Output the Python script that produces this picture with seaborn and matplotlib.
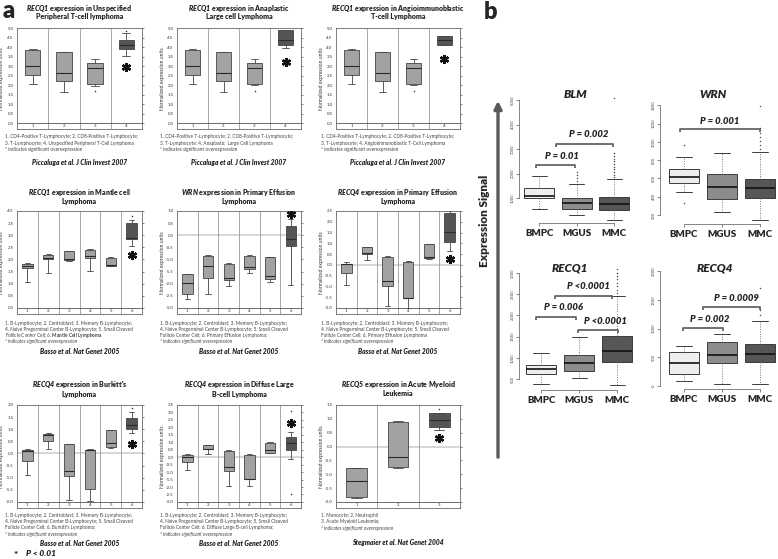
import numpy as np
import pandas as pd
import seaborn as sns
from matplotlib import pyplot as plt
from matplotlib.patches import FancyArrowPatch

W, H = 778, 559

# ---------------- panel a (Oncomine) : [low whisker, q1, median, q3, high whisker]
ptcl_boxes = [[2.07, 2.51, 3.00, 3.85, 3.90], [1.64, 2.23, 2.61, 3.74, 3.76],
              [1.95, 2.05, 2.88, 3.18, 3.39], [3.53, 3.92, 4.13, 4.36, 4.72]]
ptcl_outliers = [[], [], [1.68], [4.84]]

alcl_boxes = [[2.07, 2.51, 3.00, 3.85, 3.88], [1.64, 2.23, 2.61, 3.74, 3.76],
              [1.98, 2.07, 2.88, 3.18, 3.39], [3.96, 4.12, 4.36, 4.89, 4.90]]
alcl_outliers = [[], [], [1.68], []]

aitl_boxes = [[2.07, 2.51, 3.00, 3.85, 3.88], [1.64, 2.23, 2.61, 3.74, 3.76],
              [1.98, 2.07, 2.88, 3.18, 3.39], [4.10, 4.12, 4.38, 4.56, 4.60]]
aitl_outliers = [[], [], [1.68], []]

mcl_boxes = [[1.08, 1.66, 1.74, 1.82, 1.86], [1.45, 2.04, 2.08, 2.18, 2.22],
             [1.94, 1.99, 2.02, 2.34, 2.36], [1.54, 2.08, 2.14, 2.41, 2.43],
             [1.71, 1.73, 1.76, 2.08, 2.12], [2.57, 2.85, 2.88, 3.50, 3.62]]
mcl_outliers = [[], [], [], [], [], [3.79]]

wrn_pel_boxes = [[-2.62, -2.41, -1.97, -1.61, -1.58], [-2.44, -1.75, -1.27, -0.85, -0.83],
                 [-2.11, -1.83, -1.75, -1.19, -1.16], [-1.55, -1.41, -1.30, -0.85, -0.83],
                 [-1.94, -1.79, -1.69, -0.91, -0.89], [-2.04, -0.46, -0.14, 0.37, 0.69]]
wrn_pel_outliers = [[], [], [], [], [], []]

recq4_pel_boxes = [[-0.92, -0.37, 0.02, 0.06, 0.11], [0.22, 0.50, 0.53, 0.81, 0.83],
                   [-1.93, -0.99, -0.76, 0.37, 0.40], [-1.99, -1.54, -1.53, 0.14, 0.17],
                   [0.25, 0.34, 0.36, 0.96, 0.98], [0.62, 1.07, 1.51, 2.42, 2.50]]
recq4_pel_outliers = [[], [], [], [], [], []]

burkitt_boxes = [[-0.88, -0.33, 0.11, 0.15, 0.18], [0.19, 0.52, 0.77, 0.79, 0.84],
                 [-1.93, -0.95, -0.71, 0.38, 0.40], [-1.95, -1.47, 0.13, 0.15, 0.17],
                 [0.24, 0.27, 0.42, 0.95, 0.97], [0.86, 1.00, 1.18, 1.45, 1.70]]
burkitt_outliers = [[], [], [], [], [], [1.86]]

dlbcl_boxes = [[-0.84, -0.29, 0.00, 0.16, 0.20], [0.23, 0.54, 0.56, 0.83, 0.85],
               [-1.91, -0.95, -0.66, 0.43, 0.45], [-1.91, -1.47, -1.45, 0.16, 0.20],
               [0.27, 0.31, 0.49, 0.98, 1.00], [-0.13, 0.45, 0.98, 1.38, 1.72]]
dlbcl_outliers = [[], [], [], [], [], [3.12, -2.47]]

aml_boxes = [[-1.85, -1.82, -1.23, -0.78, -0.76], [-0.77, -0.75, -0.38, 0.90, 0.92],
             [0.60, 0.70, 0.96, 1.20, 1.22]]
aml_outliers = [[], [], [1.34]]

# ---------------- panel b (myeloma cohorts)
groups_b = ['BMPC', 'MGUS', 'MMC']
blm_boxes = [[551, 1000, 1082, 1408, 1898], [306, 539, 784, 1012, 1571], [102, 510, 755, 1029, 1776]]
blm_outliers = [[], [1680, 1800, 1950, 2070],
                [1850, 1950, 2060, 2170, 2280, 2390, 2500, 2610, 2720, 2840, 5080]]
wrn_boxes = [[448, 553, 619, 699, 830], [236, 375, 510, 645, 874], [145, 390, 492, 590, 885]]
wrn_outliers = [[965, 328], [], [920, 965, 1010, 1055, 1100, 1150, 1390]]
recq1_boxes = [[388, 624, 734, 835, 1111], [522, 701, 889, 1071, 1487], [365, 899, 1165, 1525, 2466]]
recq1_outliers = [[], [], [2540, 2610, 2690, 2770, 2850, 2930, 3010, 3100]]
recq4_boxes = [[87, 204, 395, 587, 702], [30, 395, 540, 761, 906], [30, 423, 552, 726, 1132]]
recq4_outliers = [[], [], [1240, 1320, 1700]]

LIGHT, DARK = '#a2a2a2', '#555555'
B_COLORS = ['#eeeeee', '#8c8c8c', '#565656']


def fx(x):
    return x / W


def fy(y):
    return 1 - y / H


def fig_axes(fig, left, top, right, bottom):
    return fig.add_axes([left / W, 1 - bottom / H, (right - left) / W, (bottom - top) / H])


def five_number_frame(boxes, names):
    rows = [(name, v) for name, b in zip(names, boxes) for v in b]
    return pd.DataFrame(rows, columns=['group', 'value'])


def oncomine_panel(fig, p, left, top, right, bottom, rowy, foot_x):
    n = len(p['boxes'])
    names = [str(i + 1) for i in range(n)]
    df = five_number_frame(p['boxes'], names)
    ax = fig_axes(fig, left, top, right, bottom)
    palette = [LIGHT] * (n - 1) + [DARK]
    sns.boxplot(data=df, x='group', y='value', hue='group', palette=palette, legend=False,
                whis=np.inf, width=0.5, saturation=1, linecolor='#444444', linewidth=0.6,
                medianprops=dict(color='#2a2a2a', linewidth=0.8), ax=ax)
    lo, hi = p['ylim']
    strip = (hi - lo) * 6 / 96
    ax.set_ylim(lo - strip, hi)
    ax.set_xlim(-0.5, n - 0.5)
    ax.axhline(lo, color='#555555', lw=0.6)
    if lo < 0 < hi:
        ax.axhline(0, color='#cfcfcf', lw=1.2, zorder=0)
    for i in range(n - 1):
        ax.axvline(i + 0.5, color='#9a9a9a', lw=0.6, zorder=0)
    for i, outs in enumerate(p['outliers']):
        if outs:
            ax.scatter([i] * len(outs), outs, s=1.2, color='#333333', zorder=4, linewidths=0)
    ax.plot(n - 1, p['star'], marker=(6, 2, 0), ms=6.5, mew=1.7, color='#111111', zorder=5)
    for i, name in enumerate(names):
        ax.text(i, lo - strip / 2, name, ha='center', va='center', fontsize=3.2, color='#333333')
    ticks = np.arange(lo, hi + 0.001, 0.5)
    ax.set_yticks(ticks)
    ax.set_yticklabels([f'{t:.1f}' for t in ticks])
    ax.set_xticks([])
    ax.tick_params(axis='y', labelsize=3.2, length=1.5, width=0.4, pad=1, right=True,
                   labelcolor='#333333')
    ax.set_xlabel('')
    ax.set_ylabel('Normalized expression units', fontsize=3.6, color='#333333')
    ax.yaxis.set_label_coords(-0.1, 0.5)
    for s in ax.spines.values():
        s.set_color('#666666')
        s.set_linewidth(0.6)
    cx = fx((left + right) / 2)
    t1, t2, f0, cit = rowy
    fig.text(cx, fy(t1), p['title'][0], ha='center', va='center', fontsize=5, fontweight='heavy')
    fig.text(cx, fy(t2), p['title'][1], ha='center', va='center', fontsize=5, fontweight='heavy')
    for k, line in enumerate(p['notes']):
        style = 'italic' if (k == len(p['notes']) - 1 and p.get('italic_note')) else 'normal'
        fig.text(fx(foot_x), fy(f0 + 6 * k), line, ha='left', va='center', fontsize=3.4,
                 color='#444444', fontstyle=style)
    fig.text(cx, fy(cit), p['cite'], ha='center', va='center', fontsize=4.8,
             fontweight='heavy', fontstyle='italic')


def myeloma_panel(fig, boxes, outliers, title, title_xy, extent, xlim, ylim, yticks, brackets):
    df = five_number_frame(boxes, groups_b)
    ax = fig_axes(fig, *extent)
    sns.boxplot(data=df, x='group', y='value', hue='group', palette=B_COLORS, legend=False,
                whis=np.inf, width=0.8, saturation=1, linecolor='#3c3c3c', linewidth=0.7,
                medianprops=dict(color='#111111', linewidth=1.2),
                whiskerprops=dict(linestyle=(0, (1, 1.5)), color='#777777'), ax=ax)
    for i, outs in enumerate(outliers):
        if outs:
            ax.scatter([i] * len(outs), outs, s=1.2, color='#555555', zorder=4, linewidths=0)
    ax.set_xlim(*xlim)
    ax.set_ylim(*ylim)
    for s in ['top', 'right']:
        ax.spines[s].set_visible(False)
    ax.spines['left'].set_bounds(yticks[0], yticks[-1])
    ax.spines['bottom'].set_bounds(0, 2)
    for s in ['left', 'bottom']:
        ax.spines[s].set_color('#555555')
        ax.spines[s].set_linewidth(0.5)
    ax.set_yticks(yticks)
    ax.set_yticklabels([str(t) for t in yticks], rotation=90, va='center')
    ax.set_xticks([0, 1, 2])
    ax.set_xticklabels(groups_b, fontsize=7, fontweight='heavy')
    ax.tick_params(axis='y', labelsize=3.0, length=2, width=0.4, pad=1, left=True,
                   labelcolor='#444444')
    ax.tick_params(axis='x', length=2.5, width=0.4, pad=2, bottom=True)
    ax.set_xlabel('')
    ax.set_ylabel('')
    ax_h = extent[3] - extent[1]
    depth = 3 / ax_h * (ylim[1] - ylim[0])
    for x1, x2, yb, label, lx, ly in brackets:
        ax.plot([x1, x1, x2, x2], [yb - depth, yb, yb, yb - depth], color='#666666', lw=1.3,
                solid_capstyle='butt')
        ax.text(lx, ly, label, ha='center', va='center', fontsize=6.8, fontweight='heavy',
                fontstyle='italic')
    fig.text(fx(title_xy[0]), fy(title_xy[1]), title, ha='center', va='center', fontsize=8.5,
             fontweight='heavy', fontstyle='italic')


sns.set_theme(style='white')
plt.rcParams['font.family'] = ['Lato', 'DejaVu Sans']
plt.rcParams['mathtext.fontset'] = 'custom'
plt.rcParams['mathtext.rm'] = 'Lato'
plt.rcParams['mathtext.it'] = 'Lato:italic'
plt.rcParams['mathtext.bf'] = 'Lato:bold'
if 'mathtext.bfit' in plt.rcParams:
    plt.rcParams['mathtext.bfit'] = 'Lato:italic:heavy'

fig = plt.figure(figsize=(W / 100, H / 100), dpi=100)

t_cell = ['1. CD4-Positive T-Lymphocyte; 2. CD8-Positive T-Lymphocyte;']
b_cell = ['1. B-Lymphocyte; 2. Centroblast; 3. Memory B-Lymphocyte;',
          '4. Naive Pregerminal Center B-Lymphocyte; 5. Small Cleaved']
sig = '* indicates significant overexpression'
picc = 'Piccaluga et al. J Clin Invest 2007'
basso = 'Basso et al. Nat Genet 2005'

panels = [
    dict(boxes=ptcl_boxes, outliers=ptcl_outliers, ylim=(0, 5), star=2.95,
         title=[r'$\mathbfit{RECQ1}$ expression in Unspecified', 'Peripheral T-cell lymphoma'],
         notes=t_cell + ['3. T-Lymphocyte; 4. Unspecified Peripheral T-Cell Lymphoma', sig], cite=picc),
    dict(boxes=alcl_boxes, outliers=alcl_outliers, ylim=(0, 5), star=3.23,
         title=[r'$\mathbfit{RECQ1}$ expression in Anaplastic', 'Large cell Lymphoma'],
         notes=t_cell + ['3. T-Lymphocyte; 4. Anaplastic  Large Cell Lymphoma', sig], cite=picc),
    dict(boxes=aitl_boxes, outliers=aitl_outliers, ylim=(0, 5), star=3.36,
         title=[r'$\mathbfit{RECQ1}$ expression in Angioimmunoblastic', 'T-cell Lymphoma'],
         notes=t_cell + ['3. T-Lymphocyte; 4. Angioimmunoblastic T-Cell Lymphoma', sig], cite=picc),
    dict(boxes=mcl_boxes, outliers=mcl_outliers, ylim=(0, 4), star=2.18,
         title=[r'$\mathbfit{RECQ1}$ expression in Mantle cell', 'Lymphoma'],
         notes=b_cell + [r'Follicle Center Cell; 6. $\mathbf{Mantle\ Cell\ Lymphoma}$', sig],
         cite=basso, italic_note=True),
    dict(boxes=wrn_pel_boxes, outliers=wrn_pel_outliers, ylim=(-3, 1), star=0.86,
         title=[r'$\mathbfit{WRN}$ expression in Primary Effusion', 'Lymphoma'],
         notes=b_cell + ['Follicle Center Cell; 6. Primary Effusion Lymphoma;', sig],
         cite=basso, italic_note=True),
    dict(boxes=recq4_pel_boxes, outliers=recq4_pel_outliers, ylim=(-2, 2.5), star=0.28,
         title=[r'$\mathbfit{RECQ4}$ expression in Primary Effusion', 'Lymphoma'],
         notes=b_cell + ['Follicle Center Cell; 6. Primary Effusion Lymphoma', sig],
         cite=basso, italic_note=True),
    dict(boxes=burkitt_boxes, outliers=burkitt_outliers, ylim=(-2, 2), star=0.40,
         title=[r"$\mathbfit{RECQ4}$ expression in Burkitt's", 'Lymphoma'],
         notes=b_cell + ["Follicle Center Cell; 6. Burkitt's Lymphoma;", sig],
         cite=basso, italic_note=True),
    dict(boxes=dlbcl_boxes, outliers=dlbcl_outliers, ylim=(-3, 3.5), star=2.27,
         title=[r'$\mathbfit{RECQ4}$ expression in Diffuse Large', 'B-cell Lymphoma'],
         notes=b_cell + ['Follicle Center Cell; 6. Diffuse Large B-cell Lymphoma;', sig],
         cite=basso, italic_note=True),
    dict(boxes=aml_boxes, outliers=aml_outliers, ylim=(-2, 1.5), star=0.30,
         title=[r'$\mathbfit{RECQ5}$ expression in Acute Myeloid', 'Leukemia'],
         notes=['1. Monocyte; 2. Neutrophil', '3. Acute Myeloid Leukemia;', sig],
         cite='Stegmaier et al. Nat Genet 2004', italic_note=True),
]

cols = [(17, 142), (177, 301), (336, 460)]
foot_xs = [5, 160, 321]
rows = [(28, 129), (211, 314), (405, 508)]
row_text = [(8, 17, 137, 163), (193, 202, 323, 352), (385, 394, 516, 543)]

for k, p in enumerate(panels):
    r, c = divmod(k, 3)
    oncomine_panel(fig, p, cols[c][0], rows[r][0], cols[c][1], rows[r][1], row_text[r], foot_xs[c])

# panel b
myeloma_panel(fig, blm_boxes, blm_outliers, 'BLM', (575, 94), (519, 95, 640, 223),
              (-0.533, 2.69), (-20, 5204), [1000, 2000, 3000, 4000, 5000],
              [(-0.08, 0.96, 2367, 'P = 0.01', 0.61, 2690),
               (0.45, 1.97, 3224, 'P = 0.002', 1.31, 3580)])
myeloma_panel(fig, wrn_boxes, wrn_outliers, 'WRN', (713, 94), (660, 100, 778, 224),
              (-0.63, 2.47), (102, 1457), [200, 400, 600, 800, 1000, 1200, 1400],
              [(-0.1, 2.0, 1140, 'P = 0.001', 0.95, 1220)])
myeloma_panel(fig, recq1_boxes, recq1_outliers, 'RECQ1', (570, 268), (519, 265, 640, 390),
              (-0.58, 2.6), (247, 3188), [500, 1000, 1500, 2000, 2500, 3000],
              [(0.37, 1.87, 2459, 'P <0.0001', 1.24, 2680),
               (-0.13, 0.92, 1965, 'P = 0.006', 0.58, 2180),
               (0.97, 2.03, 1659, 'P <0.0001', 1.69, 1850)])
myeloma_panel(fig, recq4_boxes, recq4_outliers, 'RECQ4', (715, 268), (660, 268, 778, 389),
              (-0.63, 2.47), (-52, 2056), [0, 500, 1000, 1500, 2000],
              [(-0.03, 1.03, 1010, 'P = 0.002', 0.68, 1167),
               (0.5, 2.0, 1376, 'P = 0.0009', 1.39, 1533)])

# arrow + axis caption of panel b
fig.add_artist(FancyArrowPatch((fx(498), fy(460)), (fx(498), fy(98)), transform=fig.transFigure,
                               arrowstyle='-|>', mutation_scale=11, lw=2.4, color='#5a5a5a'))
fig.text(fx(485), fy(221), 'Expression Signal', rotation=90, ha='center', va='center',
         fontsize=8.5, fontweight='heavy')

fig.text(fx(3), fy(11), 'a', fontsize=17, fontweight='heavy', ha='left', va='center')
fig.text(fx(484), fy(12), 'b', fontsize=17, fontweight='heavy', ha='left', va='center')
fig.text(fx(14), fy(555), '*', fontsize=7, fontweight='heavy', ha='left', va='center')
fig.text(fx(26), fy(554), 'P < 0.01', fontsize=6, fontweight='heavy', fontstyle='italic',
         ha='left', va='center')

fig.savefig('out.png', dpi=100)
